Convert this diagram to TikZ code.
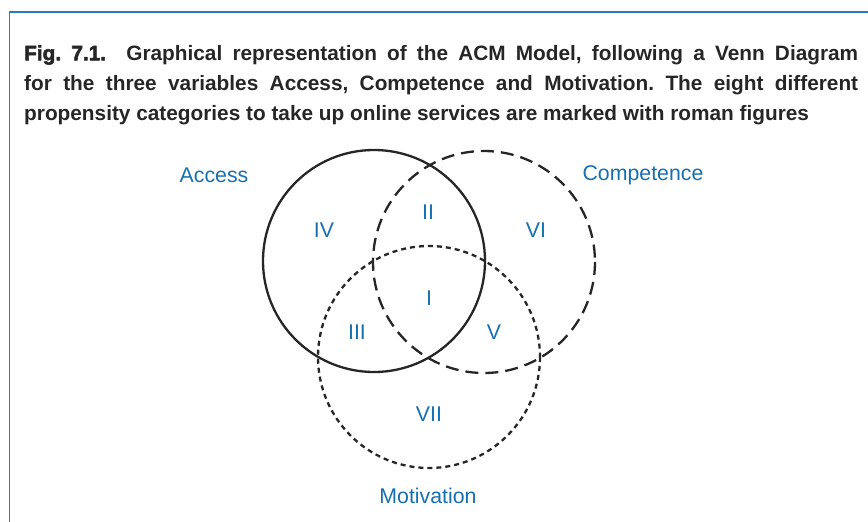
\documentclass[tikz,border=0pt]{standalone}
\usepackage{fontspec}
\setmainfont{Liberation Sans}
\definecolor{figblue}{RGB}{22,112,176}
\definecolor{frameblue}{RGB}{40,122,184}
\begin{document}
\begin{tikzpicture}[x=1pt, y=-1pt, line join=round,
  lab/.style={text=figblue, font=\fontsize{21.3}{24}\selectfont, inner sep=0pt},
  set/.style={line width=2.3pt, black!85}]
\useasboundingbox (0,0) rectangle (868,522);
\draw[frameblue, line width=1.5pt] (9.5,530)--(9.5,12)--(875,12);
\node[anchor=north west, text width=834pt, align=justify, inner sep=0pt, text=black!85,
  font=\bfseries\fontsize{20.8}{30}\selectfont] (cap) at (24,45)
  {\frenchspacing{\addfontfeature{FakeBold=2.5}Fig.~7.1.}\ \ Graphical representation of the ACM Model, following a Venn Diagram\linebreak for the three variables Access, Competence and Motivation. The eight different\linebreak propensity categories to take up online services are marked with roman figures\par};
% the three sets
\draw[set] (374,261) circle (111);
\draw[set, dash pattern=on 13pt off 7pt] (484,262) circle (111);
\draw[set, dash pattern=on 5pt off 4pt] (429,357) circle (111);
\node[lab] (acc) at (214,175) {Access};
\node[lab] (com) at (643,175) {Competence};
\node[lab] (mot) at (428,496) {Motivation};
\node[lab] (r1) at (429,298) {I};
\node[lab] (r2) at (428,212) {II};
\node[lab] (r3) at (357,332) {III};
\node[lab] (r4) at (324,230) {IV};
\node[lab] (r5) at (494,332) {V};
\node[lab] (r6) at (536,230) {VI};
\node[lab] (r7) at (429,414) {VII};
\end{tikzpicture}
\end{document}
